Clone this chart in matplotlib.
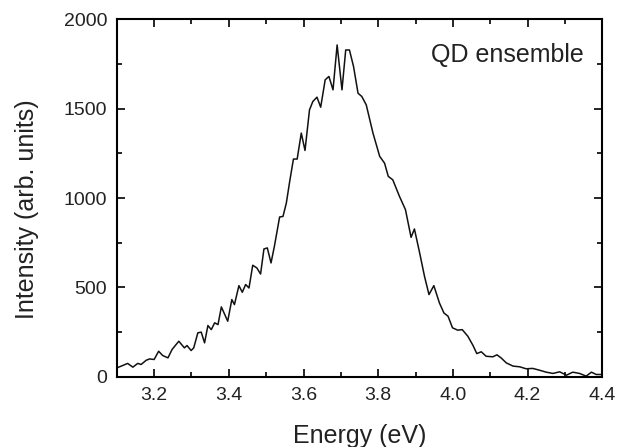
import numpy as np
import matplotlib
matplotlib.use("Agg")
import matplotlib.pyplot as plt
from matplotlib.ticker import MultipleLocator

plt.rcParams['font.family'] = ['Liberation Sans', 'DejaVu Sans']

energy = [3.100, 3.112, 3.129, 3.143, 3.156, 3.165, 3.179, 3.188, 3.200, 3.212,
          3.223, 3.237, 3.248, 3.266, 3.281, 3.288, 3.299, 3.306, 3.317, 3.326,
          3.335, 3.344, 3.353, 3.362, 3.371, 3.380, 3.397, 3.408, 3.415, 3.427,
          3.436, 3.445, 3.454, 3.464, 3.475, 3.485, 3.494, 3.503, 3.513, 3.522,
          3.536, 3.545, 3.554, 3.563, 3.573, 3.583, 3.594, 3.604, 3.616, 3.625,
          3.636, 3.646, 3.658, 3.668, 3.679, 3.690, 3.703, 3.713, 3.723, 3.734,
          3.746, 3.756, 3.768, 3.786, 3.804, 3.817, 3.827, 3.839, 3.857, 3.873,
          3.888, 3.897, 3.911, 3.924, 3.936, 3.949, 3.964, 3.976, 3.987, 3.999,
          4.013, 4.025, 4.040, 4.054, 4.064, 4.076, 4.089, 4.107, 4.118, 4.129,
          4.143, 4.161, 4.179, 4.196, 4.214, 4.232, 4.250, 4.268, 4.286, 4.304,
          4.321, 4.339, 4.357, 4.371, 4.384, 4.400]
intensity = [50, 60, 75, 54, 75, 69, 93, 100, 97, 143,
             119, 106, 153, 199, 162, 175, 147, 162, 246, 250,
             190, 287, 264, 302, 292, 391, 311, 432, 404, 510,
             473, 516, 497, 624, 609, 575, 715, 721, 637, 730,
             894, 897, 972, 1093, 1218, 1218, 1363, 1266, 1493, 1540,
             1564, 1508, 1661, 1680, 1605, 1856, 1605, 1828, 1828, 1735,
             1586, 1568, 1521, 1363, 1233, 1195, 1121, 1102, 1009, 935,
             780, 827, 693, 562, 460, 510, 413, 357, 339, 274,
             261, 264, 227, 175, 130, 140, 115, 112, 123, 106,
             78, 60, 56, 45, 47, 37, 26, 19, 28, 9,
             26, 19, 4, 26, 13, 13]

fig = plt.figure(figsize=(6.28, 4.47), dpi=100)
ax = fig.add_axes([0.186, 0.157, 0.773, 0.80])
ax.plot(energy, intensity, color='#111111', lw=1.1)

ax.set_xlim(3.1, 4.4)
ax.set_ylim(0, 2000)
ax.xaxis.set_major_locator(MultipleLocator(0.2))
ax.xaxis.set_minor_locator(MultipleLocator(0.1))
ax.yaxis.set_major_locator(MultipleLocator(500))
ax.yaxis.set_minor_locator(MultipleLocator(250))
ax.xaxis.set_major_formatter(matplotlib.ticker.FormatStrFormatter('%.1f'))
ax.tick_params(which='both', direction='in', top=True, right=True, labelsize=14,
               width=1.2, labelcolor='#222222')
ax.tick_params(which='major', length=6)
ax.tick_params(which='minor', length=3.5)
ax.tick_params(axis='x', pad=7.5)
ax.tick_params(axis='y', pad=7)
for s in ax.spines.values():
    s.set_linewidth(1.5)

ax.set_xlabel('Energy (eV)', fontsize=18, labelpad=14, color='#222222')
ax.set_ylabel('Intensity (arb. units)', fontsize=18, color='#222222')
ax.yaxis.set_label_coords(-0.16, 0.47)
ax.text(4.145, 1799, 'QD ensemble', fontsize=18, ha='center', va='center', color='#222222')

fig.savefig('out.png', dpi=100)
